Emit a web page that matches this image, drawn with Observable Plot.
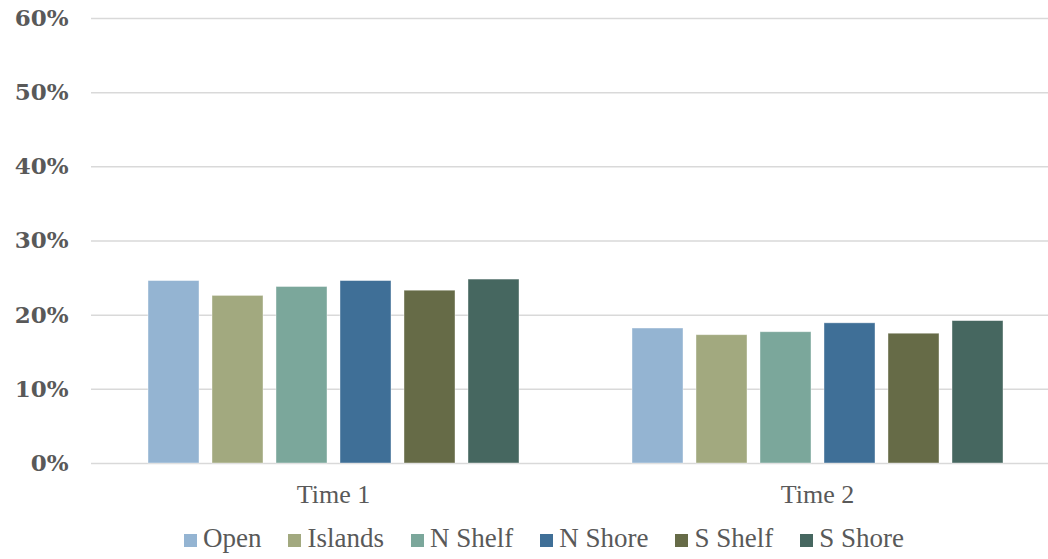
<!DOCTYPE html>
<html>
<head>
<meta charset="utf-8">
<script src="https://cdn.jsdelivr.net/npm/d3@7"></script>
<script src="https://cdn.jsdelivr.net/npm/@observablehq/plot@0.6"></script>
<style>
  html, body { margin: 0; padding: 0; background: #fff; overflow: hidden; }
  #chart { width: 1048px; height: 559px; position: relative; overflow: hidden; }
  #chart svg { overflow: hidden; }
  .legend { position: absolute; left: 184px; top: 523px; display: flex; align-items: center;
    font-family: "Liberation Serif", "Times New Roman", Tinos, "DejaVu Serif"; font-size: 27px; color: #595959; white-space: nowrap; }
  .legend .item { display: flex; align-items: center; margin-right: 27px; }
  .legend .sw { width: 13px; height: 13px; margin-right: 6px; margin-top: 3px; }
</style>
</head>
<body>
<div id="chart"></div>
<script>
const times = ["Time 1", "Time 2"];
const regions = ["Open", "Islands", "N Shelf", "N Shore", "S Shelf", "S Shore"];
const time1Values = [0.246, 0.226, 0.238, 0.246, 0.233, 0.248];
const time2Values = [0.182, 0.173, 0.177, 0.189, 0.175, 0.192];
const colors = ["#94B4D2", "#A2A97F", "#7BA79B", "#3F6F97", "#666B47", "#466760"];
const yTicks = [0, 0.1, 0.2, 0.3, 0.4, 0.5, 0.6];

const serifStack = '"Liberation Serif", "Times New Roman", Tinos, "DejaVu Serif"';

const seriesByTime = [time1Values, time2Values];
const data = [];
times.forEach((t, i) => regions.forEach((r, j) => data.push({time: t, region: r, value: seriesByTime[i][j]})));

const plot = Plot.plot({
  width: 1048,
  height: 509,
  marginLeft: 91,
  marginRight: -11,
  marginTop: 18,
  marginBottom: 46,
  style: {background: "#fff", overflow: "hidden"},
  fx: {domain: times, padding: 0, label: null},
  x: {domain: regions, paddingInner: 0.209, paddingOuter: 0.85, axis: null},
  y: {domain: [0, 0.6], label: null},
  color: {domain: regions, range: colors},
  marks: [
    Plot.gridY(yTicks, {stroke: "#d9d9d9", strokeOpacity: 1, strokeWidth: 1.5}),
    Plot.barY(data, {fx: "time", x: "region", y: "value", fill: "region", stroke: "#ffffff", strokeOpacity: 0.5, strokeWidth: 0.8}),
    Plot.axisY({ticks: yTicks, tickFormat: d3.format(".0%"), tickSize: 0, tickPadding: 23,
      fontSize: 23, fontWeight: "bold", fontFamily: "DejaVu Serif", color: "#595959", label: null}),
    Plot.axisFx({anchor: "bottom", tickSize: 0, tickPadding: 21, fontSize: 26,
      fontFamily: serifStack, color: "#595959", label: null})
  ]
});
document.getElementById("chart").appendChild(plot);

const legend = document.createElement("div");
legend.className = "legend";
regions.forEach((r, i) => {
  const item = document.createElement("div");
  item.className = "item";
  const sw = document.createElement("span");
  sw.className = "sw";
  sw.style.background = colors[i];
  const label = document.createElement("span");
  label.textContent = r;
  item.appendChild(sw);
  item.appendChild(label);
  legend.appendChild(item);
});
document.getElementById("chart").appendChild(legend);
</script>
</body>
</html>
